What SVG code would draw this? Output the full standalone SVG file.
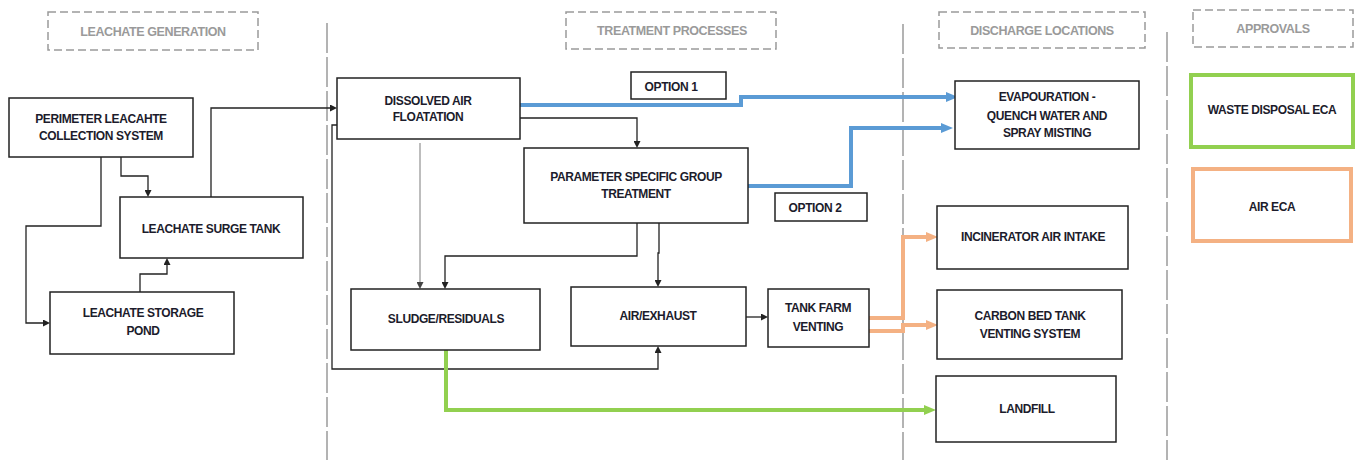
<svg xmlns="http://www.w3.org/2000/svg" width="1359" height="460" viewBox="0 0 1359 460">
<style>
text{font-family:"Liberation Sans",Arial,sans-serif;font-weight:bold;font-size:12px;fill:#1c1c2c;text-anchor:middle;letter-spacing:-0.4px}
.hdr rect{fill:none;stroke:#9a9a9a;stroke-width:1.5;stroke-dasharray:8 4}
.hdr text{fill:#9a9a9a;font-size:12.5px}
.div{stroke:#9a9a9a;stroke-width:1.5;stroke-dasharray:30 4;fill:none}
.node rect{fill:#fff;stroke:#222;stroke-width:1.5}
.c{fill:none;stroke:#222;stroke-width:1.3}
.g{fill:none;stroke:#9a9a9a;stroke-width:1.3}
.blue{fill:none;stroke:#5b9bd5;stroke-width:4}
.org{fill:none;stroke:#f4b183;stroke-width:4}
.grn{fill:none;stroke:#92d050;stroke-width:4}
</style>
<defs>
<marker id="ab" markerUnits="userSpaceOnUse" markerWidth="7" markerHeight="7" viewBox="0 0 7 7" refX="0" refY="3.5" orient="auto"><path d="M0,0 L7,3.5 L0,7 z" fill="#222"/></marker>
<marker id="ag" markerUnits="userSpaceOnUse" markerWidth="7" markerHeight="7" viewBox="0 0 7 7" refX="0" refY="3.5" orient="auto"><path d="M0,0 L7,3.5 L0,7 z" fill="#444"/></marker>
<marker id="abl" markerUnits="userSpaceOnUse" markerWidth="12" markerHeight="12" viewBox="0 0 12 12" refX="0" refY="6" orient="auto"><path d="M0,1 L12,6 L0,11 z" fill="#5b9bd5"/></marker>
<marker id="aor" markerUnits="userSpaceOnUse" markerWidth="12" markerHeight="12" viewBox="0 0 12 12" refX="0" refY="6" orient="auto"><path d="M0,1 L12,6 L0,11 z" fill="#f4b183"/></marker>
<marker id="agr" markerUnits="userSpaceOnUse" markerWidth="12" markerHeight="12" viewBox="0 0 12 12" refX="0" refY="6" orient="auto"><path d="M0,1 L12,6 L0,11 z" fill="#92d050"/></marker>
</defs>
<rect width="1359" height="460" fill="#fff"/>

<g id="dividers">
<line class="div" x1="327" y1="23" x2="327" y2="460"/>
<line class="div" x1="903" y1="24" x2="903" y2="460"/>
<line class="div" x1="1167" y1="32" x2="1167" y2="460"/>
</g>

<g id="hdr-generation" class="hdr"><rect x="48" y="12" width="210" height="38"/><text x="153" y="36">LEACHATE GENERATION</text></g>
<g id="hdr-treatment" class="hdr"><rect x="566" y="12" width="210" height="37"/><text x="672" y="35">TREATMENT PROCESSES</text></g>
<g id="hdr-discharge" class="hdr"><rect x="939" y="12" width="206" height="36"/><text x="1042" y="35">DISCHARGE LOCATIONS</text></g>
<g id="hdr-approvals" class="hdr"><rect x="1193" y="10" width="160" height="37"/><text x="1273" y="33">APPROVALS</text></g>

<g id="connectors">
<path class="c" d="M121,157 V176 H148 V190" marker-end="url(#ab)"/>
<path class="c" d="M101,157 V226 H26 V323 H43" marker-end="url(#ab)"/>
<path class="c" d="M140,292 V274 H167 V265" marker-end="url(#ab)"/>
<path class="c" d="M211,197 V108 H330" marker-end="url(#ab)"/>
<path class="c" d="M520,118 H637 V141" marker-end="url(#ab)"/>
<path class="g" d="M420,143 V282" marker-end="url(#ag)"/>
<path class="c" d="M337,125 H332 V369 H658 V353" marker-end="url(#ab)"/>
<path class="c" d="M637,223 V256 H445 V282" marker-end="url(#ab)"/>
<path class="c" d="M659,223 V253 H658 V280" marker-end="url(#ab)"/>
<path class="c" d="M746,317 H761" marker-end="url(#ab)"/>
<path class="blue" d="M520,105 H741 V97 H946" marker-end="url(#abl)"/>
<path class="blue" d="M748,186 H851 V128 H941" marker-end="url(#abl)"/>
<path class="org" d="M869,318 H903 V237 H926" marker-end="url(#aor)"/>
<path class="org" d="M869,331 H903 V325 H926" marker-end="url(#aor)"/>
<path class="grn" d="M446,350 V410 H924" marker-end="url(#agr)"/>
</g>

<g id="perimeter" class="node"><rect x="9" y="98" width="184" height="59"/><text x="101" y="123">PERIMETER LEACAHTE</text><text x="101" y="140">COLLECTION SYSTEM</text></g>
<g id="surge" class="node"><rect x="120" y="197" width="183" height="61"/><text x="211" y="233">LEACHATE SURGE TANK</text></g>
<g id="pond" class="node"><rect x="50" y="292" width="184" height="62"/><text x="143" y="317">LEACHATE STORAGE</text><text x="143" y="335">POND</text></g>
<g id="daf" class="node"><rect x="337" y="78" width="183" height="61"/><text x="428" y="105">DISSOLVED AIR</text><text x="428" y="121">FLOATATION</text></g>
<g id="psgt" class="node"><rect x="524" y="148" width="224" height="75"/><text x="636" y="181">PARAMETER SPECIFIC GROUP</text><text x="636" y="198">TREATMENT</text></g>
<g id="sludge" class="node"><rect x="351" y="289" width="189" height="61"/><text x="446" y="323">SLUDGE/RESIDUALS</text></g>
<g id="air" class="node"><rect x="571" y="287" width="175" height="59"/><text x="658" y="320">AIR/EXHAUST</text></g>
<g id="tankfarm" class="node"><rect x="768" y="289" width="101" height="58"/><text x="818" y="312">TANK FARM</text><text x="818" y="331">VENTING</text></g>
<g id="option1" class="node"><rect x="631" y="72" width="95" height="27"/><text x="671" y="91">OPTION 1</text></g>
<g id="option2" class="node"><rect x="775" y="193" width="92" height="28"/><text x="815" y="212">OPTION 2</text></g>
<g id="evap" class="node"><rect x="955" y="81" width="184" height="68"/><text x="1047" y="101">EVAPOURATION -</text><text x="1047" y="120">QUENCH WATER AND</text><text x="1047" y="137">SPRAY MISTING</text></g>
<g id="incinerator" class="node"><rect x="937" y="206" width="191" height="63"/><text x="1033" y="241">INCINERATOR AIR INTAKE</text></g>
<g id="carbon" class="node"><rect x="937" y="290" width="185" height="69"/><text x="1030" y="320">CARBON BED TANK</text><text x="1030" y="338">VENTING SYSTEM</text></g>
<g id="landfill" class="node"><rect x="936" y="376" width="180" height="66"/><text x="1027" y="413">LANDFILL</text></g>
<g id="waste-eca"><rect x="1191" y="75" width="162" height="72" fill="#fff" stroke="#92d050" stroke-width="4"/><text x="1272" y="114">WASTE DISPOSAL ECA</text></g>
<g id="air-eca"><rect x="1193" y="169" width="158" height="72" fill="#fff" stroke="#f4b183" stroke-width="4"/><text x="1272" y="211">AIR ECA</text></g>
</svg>
